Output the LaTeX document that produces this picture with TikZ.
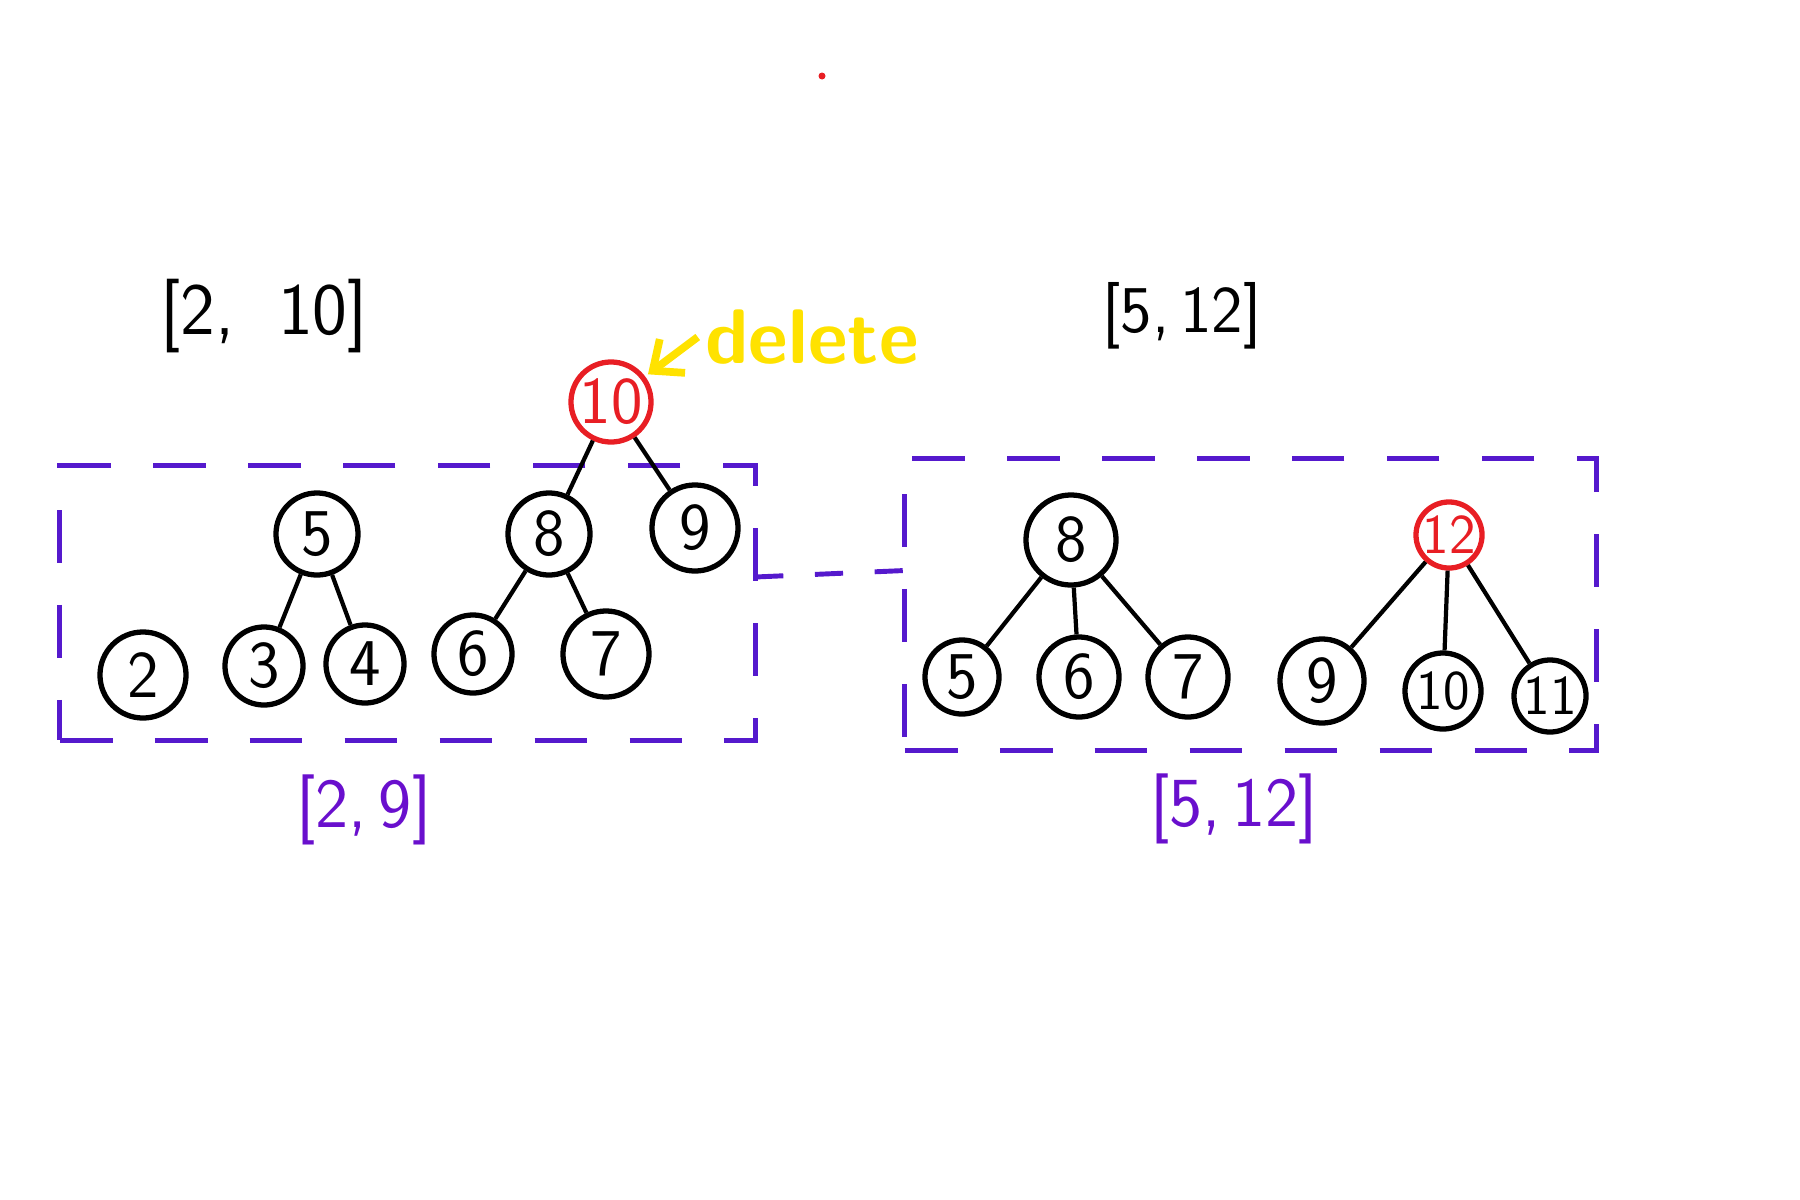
\documentclass[tikz,border=0pt]{standalone}
\usetikzlibrary{calc,arrows.meta}
\definecolor{boxblue}{RGB}{85,25,205}
\definecolor{labpurple}{RGB}{105,15,205}
\definecolor{hred}{RGB}{232,30,36}
\definecolor{hyellow}{RGB}{255,226,0}
\tikzset{
  tnode/.style={circle, draw=black, line width=1.5pt, minimum size=0.82cm, inner sep=0pt,
    font=\sffamily\fontsize{19}{20}\selectfont},
  rnode/.style={tnode, draw=hred, text=hred},
  edge/.style={line width=1.2pt, black},
  dbox/.style={draw=boxblue, line width=1.4pt, dash pattern=on 15pt off 12pt,
    rectangle, inner sep=0pt, outer sep=0pt},
  dlink/.style={draw=boxblue, line width=1.4pt, dash pattern=on 8pt off 9pt},
  blabel/.style={font=\sffamily\fontsize{21}{22}\selectfont, text=black},
  plabel/.style={font=\sffamily\fontsize{20}{22}\selectfont, text=labpurple},
}
\begin{document}
\begin{tikzpicture}[x=0.01cm, y=-0.01cm]
\useasboundingbox (0,0) rectangle (1800,1200);
% stray red dot
\fill[hred] (822,76) circle (3.5);
% labels
\node[blabel] (tl) at (264,316) {[2,\; 10]};
\node[blabel, font=\sffamily\fontsize{19}{22}\selectfont] (tr) at (1182,316) {[5,\,12]};
\node[font=\sffamily\bfseries\fontsize{22}{24}\selectfont, text=hyellow, inner sep=2pt] (del) at (812,337) {delete};
% boxes
\node[dbox, minimum width=6.95cm, minimum height=2.74cm] (lbox) at (407.5,603) {};
\node[dbox, minimum width=6.91cm, minimum height=2.91cm] (rbox) at (1250.5,604.5) {};
\draw[dlink] ($(lbox.east)+(0,-26)$) -- ($(rbox.west)+(0,-34)$);
\node[plabel] (bl) at (364,810) {[2,\,9]};
\node[plabel] (br) at (1234,809) {[5,\,12]};
% left tree
\node[rnode, minimum size=0.8cm] (a10) at (611,402) {10};
\node[tnode] (a5) at (317,534) {5};
\node[tnode] (a8) at (549,534) {8};
\node[tnode, minimum size=0.86cm] (a9) at (695,528) {9};
\node[tnode, minimum size=0.86cm] (a2) at (143,675) {2};
\node[tnode, minimum size=0.78cm] (a3) at (264,666) {3};
\node[tnode, minimum size=0.78cm] (a4) at (365,664) {4};
\node[tnode, minimum size=0.78cm] (a6) at (473,654) {6};
\node[tnode, minimum size=0.86cm] (a7) at (606,654) {7};
\draw[edge] (a10) -- (a8);
\draw[edge] (a10) -- (a9);
\draw[edge] (a5) -- (a3);
\draw[edge] (a5) -- (a4);
\draw[edge] (a8) -- (a6);
\draw[edge] (a8) -- (a7);
% delete arrow
\draw[hyellow, line width=2.2pt, -{Straight Barb[length=7pt,width=12pt]}, shorten >=1pt] (del.west) -- (a10);
% right tree
\node[tnode, minimum size=0.9cm] (b8) at (1071,540) {8};
\node[rnode, minimum size=0.66cm, font=\sffamily\fontsize{16}{18}\selectfont] (b12) at (1449,535) {12};
\node[tnode, minimum size=0.74cm] (b5) at (962,677) {5};
\node[tnode, minimum size=0.8cm] (b6) at (1079,677) {6};
\node[tnode, minimum size=0.8cm] (b7) at (1188,677) {7};
\node[tnode, minimum size=0.84cm] (b9) at (1322,681) {9};
\node[tnode, minimum size=0.76cm, font=\sffamily\fontsize{16}{18}\selectfont] (b10) at (1443,691) {10};
\node[tnode, minimum size=0.72cm, font=\sffamily\fontsize{16}{18}\selectfont] (b11) at (1550,696) {11};
\draw[edge] (b8) -- (b5);
\draw[edge] (b8) -- (b6);
\draw[edge] (b8) -- (b7);
\draw[edge] (b12) -- (b9);
\draw[edge] (b12) -- (b10);
\draw[edge] (b12) -- (b11);
\end{tikzpicture}
\end{document}
